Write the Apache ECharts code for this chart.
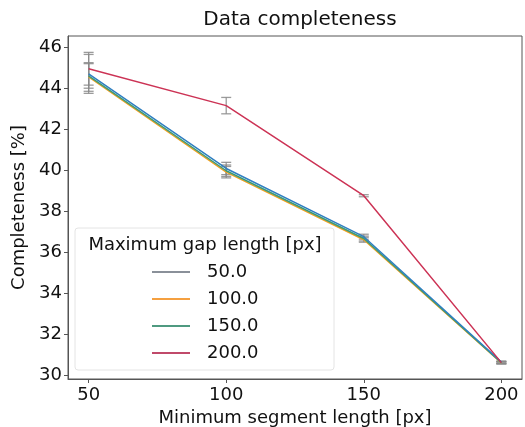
<!DOCTYPE html>
<html><head><meta charset="utf-8">
<script src="https://cdn.jsdelivr.net/npm/echarts@6/dist/echarts.min.js"></script>
<style>html,body{margin:0;padding:0;background:#fff}#c{width:525px;height:427px}</style>
</head><body><div id="c"></div>
<script>
var segLengths = [50, 100, 150, 200];
var gapLabels = ['50.0', '100.0', '150.0', '200.0'];
var gap50 = [44.7, 40.08, 36.75, 30.63];
var gap100 = [44.55, 39.9, 36.6, 30.58];
var gap150 = [44.6, 39.97, 36.66, 30.6];
var gap200 = [44.95, 43.15, 38.75, 30.6];
var err50 = [0.95, 0.3, 0.12, 0.05];
var err100 = [0.7, 0.28, 0.12, 0.05];
var err150 = [0.6, 0.28, 0.12, 0.05];
var err200 = [0.8, 0.4, 0.05, 0.05];
var yTicks = [30, 32, 34, 36, 38, 40, 42, 44, 46];

var lineColors = ['#2f7fc0', '#f0a020', '#3a9a7a', '#cc3355'];
var legendColors = ['#8a9099', '#f5a040', '#4f9a80', '#c04a6a'];
var values = [gap50, gap100, gap150, gap200];
var errs = [err50, err100, err150, err200];
var FONT = 'DejaVu Sans';

var series = [];
values.forEach(function (vals, si) {
  var d = segLengths.map(function (x, i) { return [x, vals[i] - errs[si][i], vals[i] + errs[si][i]]; });
  series.push({
    type: 'custom', name: 'err' + si, z: 2, silent: true,
    data: d,
    renderItem: function (params, api) {
      var x = api.value(0);
      var lo = api.coord([x, api.value(1)]);
      var hi = api.coord([x, api.value(2)]);
      var w = 5;
      var st = { stroke: '#8a8a8a', lineWidth: 1.3, opacity: 0.85 };
      return { type: 'group', children: [
        { type: 'line', shape: { x1: lo[0], y1: lo[1], x2: hi[0], y2: hi[1] }, style: st },
        { type: 'line', shape: { x1: lo[0] - w, y1: lo[1], x2: lo[0] + w, y2: lo[1] }, style: st },
        { type: 'line', shape: { x1: hi[0] - w, y1: hi[1], x2: hi[0] + w, y2: hi[1] }, style: st }
      ]};
    }
  });
});
[1, 2, 0, 3].forEach(function (si) {
  var vals = values[si];
  series.push({
    type: 'line', name: gapLabels[si], z: 3,
    data: segLengths.map(function (x, i) { return [x, vals[i]]; }),
    symbol: 'none', showSymbol: false,
    lineStyle: { color: lineColors[si], width: 1.5 },
    itemStyle: { color: legendColors[si] }
  });
});

var chart = echarts.init(document.getElementById('c'), null, { renderer: 'canvas' });
chart.setOption({
  animation: false,
  backgroundColor: '#fff',
  title: {
    text: 'Data completeness', left: 295, top: 5, textAlign: 'center',
    textStyle: { fontFamily: FONT, fontSize: 20, fontWeight: 'normal', color: '#111' }
  },
  grid: { left: 68, right: 3, top: 36, bottom: 48, outerBoundsMode: 'none', containLabel: false,
          show: true, borderColor: '#555', borderWidth: 1, backgroundColor: 'transparent' },
  xAxis: {
    type: 'value', min: 42.5, max: 207.5,
    name: 'Minimum segment length [px]', nameLocation: 'middle', nameGap: 30,
    nameTextStyle: { fontFamily: FONT, fontSize: 18, color: '#111' },
    axisLine: { show: true, onZero: false, lineStyle: { color: '#555', width: 1 } },
    axisTick: { show: true, length: 4, customValues: segLengths, lineStyle: { color: '#555' } },
    axisLabel: { customValues: segLengths, fontFamily: FONT, fontSize: 18, color: '#111', margin: 7 },
    splitLine: { show: false }
  },
  yAxis: {
    type: 'value', min: 29.8, max: 46.55,
    name: 'Completeness [%]', nameLocation: 'middle', nameGap: 36, nameRotate: 90,
    nameTextStyle: { fontFamily: FONT, fontSize: 18, color: '#111' },
    axisLine: { show: true, onZero: false, lineStyle: { color: '#555', width: 1 } },
    axisTick: { show: true, length: 4, customValues: yTicks, lineStyle: { color: '#555' } },
    axisLabel: { customValues: yTicks, fontFamily: FONT, fontSize: 18, color: '#111', margin: 6 },
    splitLine: { show: false }
  },
  graphic: [
    { type: 'rect', z: 5, shape: { x: 75, y: 228, width: 259, height: 142, r: 3 },
      style: { fill: 'rgba(255,255,255,0.85)', stroke: '#e4e4e4', lineWidth: 1 } },
    { type: 'text', z: 6, x: 205, y: 245,
      style: { text: 'Maximum gap length [px]', font: '18px "DejaVu Sans"', fill: '#111', textAlign: 'center', textVerticalAlign: 'middle' } }
  ],
  legend: {
    z: 6, orient: 'vertical', left: 152, top: 263,
    itemWidth: 38, itemHeight: 14, itemGap: 9, padding: [0, 0, 0, 0],
    icon: 'path://M0,6 L38,6 L38,8 L0,8 Z',
    textStyle: { fontFamily: FONT, fontSize: 18, lineHeight: 18, color: '#111', padding: [0, 0, 0, 12] },
    data: gapLabels.map(function (n, i) {
      return { name: n, itemStyle: { color: legendColors[i] } };
    })
  },
  series: series
});
</script>
</body></html>
